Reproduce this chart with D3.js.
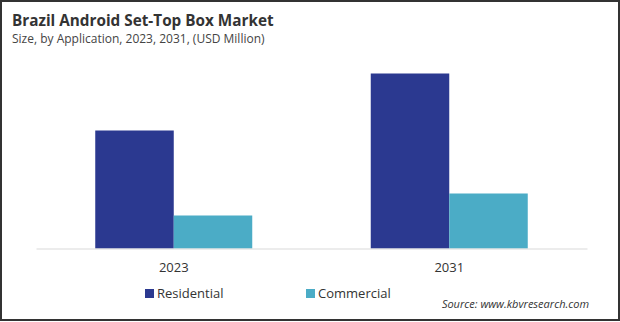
<!DOCTYPE html>
<html>
<head>
<meta charset="utf-8">
<script src="https://cdn.jsdelivr.net/npm/d3@7"></script>
<style>
  body { margin: 0; background: #fff; }
  svg { display: block; font-family: "Open Sans", "Noto Sans", sans-serif; }
</style>
</head>
<body>
<svg id="chart" width="620" height="322"></svg>
<script>
const years = ["2023", "2031"];
const segments = ["Residential", "Commercial"];
const residential = [118, 175];
const commercial = [33, 55];

const colorScale = d3
  .scaleOrdinal()
  .domain(segments)
  .range(["#2b3990", "#4bacc6"]);

const width = 620;
const height = 322;
const baseline = 248.5;

const svg = d3.select("#chart");

// frame
svg.append("rect")
  .attr("x", 1).attr("y", 1)
  .attr("width", width - 2).attr("height", height - 3)
  .attr("fill", "#fff")
  .attr("stroke", "#333")
  .attr("stroke-width", 2);

svg.append("text")
  .attr("x", 12).attr("y", 26)
  .attr("font-size", 15.3).attr("font-weight", 700)
  .attr("fill", "#333")
  .text("Brazil Android Set-Top Box Market");

svg.append("text")
  .attr("x", 12).attr("y", 43)
  .attr("font-size", 12)
  .attr("fill", "#444")
  .text("Size, by Application, 2023, 2031, (USD Million)");

const rows = years.map((year, i) => ({
  year,
  values: [
    { key: "Residential", value: residential[i] },
    { key: "Commercial", value: commercial[i] }
  ]
}));

const x = d3.scaleBand().domain(years).range([36, 587]);
const groupWidth = 157;
const xInner = d3.scaleBand().domain(segments).range([0, groupWidth]);
const y = d3.scaleLinear().domain([0, 200]).range([baseline, baseline - 200]);

const groups = svg.selectAll("g.year").data(rows).enter()
  .append("g")
  .attr("class", "year")
  .attr("transform", d => `translate(${x(d.year) + (x.bandwidth() - groupWidth) / 2},0)`);

groups.selectAll("rect").data(d => d.values).enter()
  .append("rect")
  .attr("x", d => xInner(d.key))
  .attr("width", xInner.bandwidth())
  .attr("y", d => y(d.value))
  .attr("height", d => y(0) - y(d.value))
  .attr("fill", d => colorScale(d.key));

// category axis
const axis = svg.append("g")
  .attr("transform", `translate(0,${baseline})`)
  .call(d3.axisBottom(x).tickSize(0).tickPadding(14));
axis.select(".domain").attr("stroke", "#d9d9d9");
axis.selectAll("text")
  .attr("font-size", 13)
  .attr("fill", "#333")
  .attr("font-family", "\"Open Sans\", sans-serif");

// legend
const legendX = [145, 306];
const legend = svg.selectAll("g.legend").data(segments).enter()
  .append("g")
  .attr("class", "legend")
  .attr("transform", (d, i) => `translate(${legendX[i]},289)`);

legend.append("rect")
  .attr("width", 9).attr("height", 9)
  .attr("fill", d => colorScale(d));

legend.append("text")
  .attr("x", 12).attr("y", 9)
  .attr("font-size", 13)
  .attr("fill", "#333")
  .text(d => d);

svg.append("text")
  .attr("x", 589).attr("y", 308)
  .attr("text-anchor", "end")
  .attr("font-size", 11)
  .attr("font-style", "italic")
  .attr("fill", "#333")
  .text("Source: www.kbvresearch.com");
</script>
</body>
</html>
